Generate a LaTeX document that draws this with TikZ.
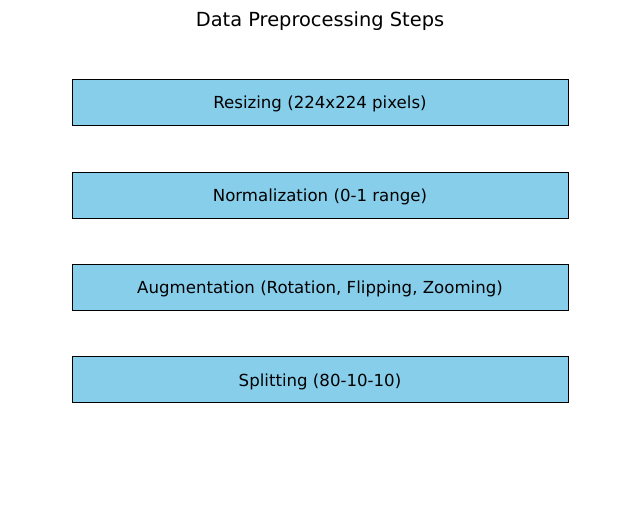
\documentclass[tikz,border=0pt]{standalone}
\usepackage{fontspec}
\setmainfont{DejaVu Sans}
\definecolor{skyblue}{HTML}{87CEEB}
\newcommand{\lowered}[1]{\raisebox{-2pt}[\height][\depth]{#1}}
\begin{document}
\begin{tikzpicture}[x=1pt,y=-1pt,
  stepbox/.style={draw=black, line width=0.9pt, fill=skyblue, minimum width=496pt, minimum height=46pt, inner sep=0pt, font=\fontsize{16.6}{19}\selectfont},
  titletext/.style={font=\fontsize{19.4}{22}\selectfont}]
\useasboundingbox (0,0) rectangle (640,505);
\node[titletext] (title) at (320,21) {Data Preprocessing Steps};
\node[stepbox] (s1) at (320,102) {\lowered{Resizing (224x224 pixels)}};
\node[stepbox] (s2) at (320,195) {\lowered{Normalization (0-1 range)}};
\node[stepbox] (s3) at (320,287) {\lowered{Augmentation (Rotation, Flipping, Zooming)}};
\node[stepbox] (s4) at (320,379.5) {\lowered{Splitting (80-10-10)}};
\end{tikzpicture}
\end{document}
